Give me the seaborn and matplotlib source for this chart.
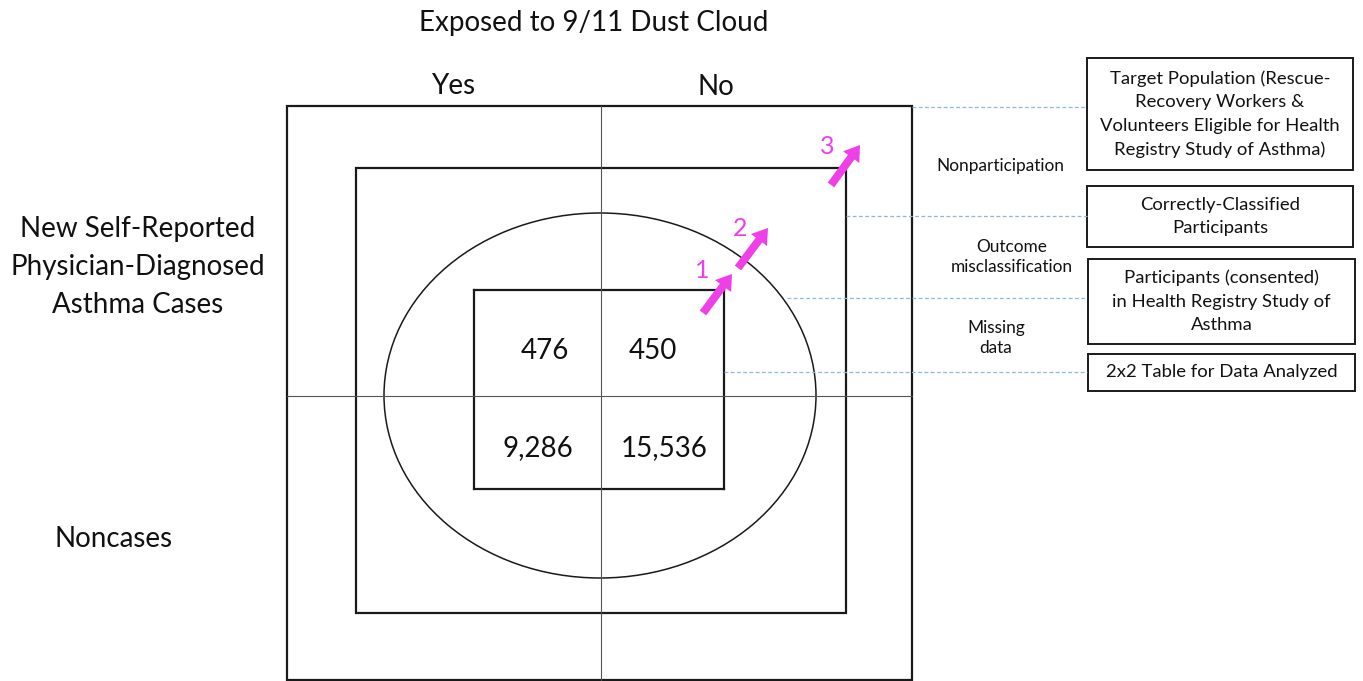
import numpy as np
import matplotlib
matplotlib.use("Agg")
import matplotlib.pyplot as plt
import matplotlib.patches as mpatches
from matplotlib.colors import ListedColormap
import seaborn as sns
import pandas as pd

# 2x2 table for data analyzed
exposure_levels = ["Yes", "No"]
outcome_levels = ["Cases", "Noncases"]
counts = [[476, 450],
          [9286, 15536]]

title = "Exposed to 9/11 Dust Cloud"
row_titles = ["New Self-Reported\nPhysician-Diagnosed\nAsthma Cases", "Noncases"]
box_labels = [
    "Target Population (Rescue-\nRecovery Workers &\nVolunteers Eligible for Health\nRegistry Study of Asthma)",
    "Correctly-Classified\nParticipants",
    "Participants (consented)\nin Health Registry Study of\nAsthma",
    "2x2 Table for Data Analyzed",
]
bias_labels = ["Nonparticipation", "Outcome\nmisclassification", "Missing\ndata"]
arrow_numbers = ["1", "2", "3"]

sns.set_theme(style="white")
plt.rcParams["font.family"] = ["Lato", "DejaVu Sans"]

W, H = 1363, 681
fig = plt.figure(figsize=(W / 100, H / 100), dpi=100)

# inner 2x2 table, drawn underneath the main drawing layer
df = pd.DataFrame(counts, index=outcome_levels, columns=exposure_levels)
tab = fig.add_axes([474 / W, 1 - 489 / H, 250 / W, 199 / H], zorder=1)
sns.heatmap(df, ax=tab, cmap=ListedColormap(["white"]), cbar=False, annot=True,
            fmt=",", annot_kws={"fontsize": 20, "color": "#111111"},
            linewidths=0, xticklabels=False, yticklabels=False)
# small nudges so the numbers sit where they do in the original table
nudges = [(8.5, 11), (-8.5, 11), (1.5, 9), (2.5, 9)]
for t, (dx, dy) in zip(tab.texts, nudges):
    x, y = t.get_position()
    t.set_position((x + dx / 125, y + dy / 99.5))
for s in tab.spines.values():
    s.set_visible(True)
    s.set_color("#1a1a1a")
    s.set_linewidth(1.6)

ax = fig.add_axes([0, 0, 1, 1], zorder=2)
ax.patch.set_alpha(0)
ax.set_xlim(0, W)
ax.set_ylim(H, 0)
ax.axis("off")

magenta = "#EE40E6"
dash_blue = "#8DB6E2"

# outer box = target population, middle box = correctly classified
ax.add_patch(mpatches.Rectangle((287, 106), 625, 574, fill=False, ec="#1a1a1a", lw=1.6))
ax.add_patch(mpatches.Rectangle((356, 168), 490, 445, fill=False, ec="#1a1a1a", lw=1.6))
ax.add_patch(mpatches.Ellipse((600, 395.5), 432, 365, fill=False, ec="#1a1a1a", lw=1.1))

# cross lines
ax.plot([601, 601], [106, 680], color="#555555", lw=0.8)
ax.plot([287, 912], [396, 396], color="#555555", lw=0.8)

# headers
ax.text(594, 23, title, ha="center", va="center", fontsize=20, color="#111111")
ax.text(453, 86, exposure_levels[0], ha="center", va="center", fontsize=20, color="#111111")
ax.text(716, 87, exposure_levels[1], ha="center", va="center", fontsize=20, color="#111111")
ax.text(138, 267, row_titles[0], ha="center", va="center", fontsize=20,
        linespacing=1.55, color="#111111")
ax.text(114, 539, row_titles[1], ha="center", va="center", fontsize=20, color="#111111")

# right-hand boxes
boxes = [(1087, 58, 266, 112), (1087, 186, 266, 61), (1088, 259, 267, 85), (1088, 354, 267, 37)]
for (x, y, w, h), lab in zip(boxes, box_labels):
    ax.add_patch(mpatches.Rectangle((x, y), w, h, fill=False, ec="#1a1a1a", lw=1.4))
    ax.text(x + w / 2, y + h / 2, lab, ha="center", va="center", fontsize=13.3,
            linespacing=1.58, color="#111111")

# dashed connectors
for y, x0 in [(107, 912), (216, 846), (298, 787), (372, 724)]:
    ax.plot([x0, 1087], [y, y], color=dash_blue, lw=0.9, ls=(0, (3, 2)))

for (x, y), lab in zip([(1000, 166), (1012, 257), (996, 338)], bias_labels):
    ax.text(x, y, lab, ha="center", va="center", fontsize=12.4, linespacing=1.35,
            color="#111111")

# magenta arrows
arrows = [((703, 313), (732, 274)), ((738, 268), (768, 228)), ((831, 185), (860, 145))]
for (x0, y0), (x1, y1) in arrows:
    ax.add_patch(mpatches.FancyArrow(x0, y0, x1 - x0, y1 - y0, width=8, head_width=20,
                                     head_length=15, length_includes_head=True,
                                     color=magenta, lw=0))
for (x, y), lab in zip([(702, 271), (740, 229), (827, 147)], arrow_numbers):
    ax.text(x, y, lab, ha="center", va="center", fontsize=18, color=magenta)

fig.savefig("out.png", dpi=100)
